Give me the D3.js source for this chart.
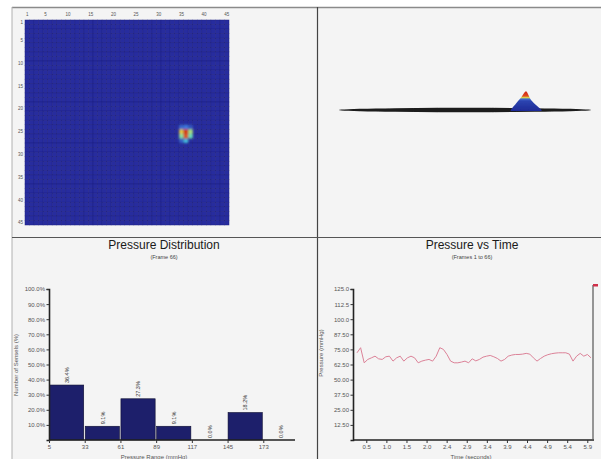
<!DOCTYPE html>
<html><head><meta charset="utf-8">
<script src="https://cdn.jsdelivr.net/npm/d3@7"></script>
<style>
body{margin:0;background:#fff}
svg{display:block}
text{font-family:"Liberation Sans",Arial,sans-serif}
</style>
</head><body>
<svg id="c" width="601" height="459"></svg>
<script>
// ---------- DATA ----------
const gridSize = 45;
const mapTickLabels = [1,5,10,15,20,25,30,35,40,45];
// loaded sensels (column, row, pressure mmHg) in frame 66
const cellCols   = [36, 36, 35, 37, 35, 37, 36, 36, 35, 37, 35];
const cellRows   = [25, 26, 25, 25, 26, 26, 27, 24, 24, 24, 27];
const cellValues = [162,151,105, 82, 75, 68, 48, 28, 22, 15, 18];

const binEdges    = [5, 33, 61, 89, 117, 145, 173];
const binUpper    = 201;
const binPercents = [36.4, 9.1, 27.3, 9.1, 0.0, 18.2, 0.0];
const binLabels   = ["36.4%","9.1%","27.3%","9.1%","0.0%","18.2%","0.0%"];
const pctTicks    = [10,20,30,40,50,60,70,80,90,100];
const pctTickLabels = ["10.0%","20.0%","30.0%","40.0%","50.0%","60.0%","70.0%","80.0%","90.0%","100.0%"];

const frameCount = 66;
const frameInterval = 0.0878; // seconds per frame
const pressureSeries = [
  72.2,76.4,63.9,66.7,68.0,69.4,67.2,66.7,68.9,69.4,
  65.3,68.0,69.4,65.3,68.0,69.4,68.0,63.9,65.3,66.1,
  66.7,65.3,69.4,76.4,75.0,70.8,65.3,63.9,63.9,64.5,
  65.3,63.9,67.2,65.5,66.7,68.6,69.4,70.0,68.9,67.5,
  65.3,66.7,69.4,70.3,70.8,70.8,71.1,71.7,71.1,68.0,
  65.3,67.5,69.4,70.6,71.4,71.9,72.2,72.2,72.2,71.1,
  65.3,69.4,71.7,69.4,70.8,68.0
];
const timeTickValues = [0.49,0.98,1.47,1.96,2.45,2.94,3.43,3.92,4.41,4.90,5.39,5.88];
const timeTickLabels = ["0.5","1.0","1.5","2.0","2.4","2.9","3.4","3.9","4.4","4.9","5.4","5.9"];
const pressureTicks = [12.5,25,37.5,50,62.5,75,87.5,100,112.5,125];
const pressureTickLabels = ["12.50","25.00","37.50","50.00","62.50","75.00","87.50","100.0","112.5","125.0"];

// ---------- DRAW ----------
const svg = d3.select("#c");
const defs = svg.append("defs");
defs.append("filter").attr("id","blur1").attr("x","-50%").attr("y","-50%").attr("width","200%").attr("height","200%")
  .append("feGaussianBlur").attr("stdDeviation",1.1);
defs.append("filter").attr("id","blur05").attr("x","-20%").attr("y","-200%").attr("width","140%").attr("height","500%")
  .append("feGaussianBlur").attr("stdDeviation",0.6);

// panel background and frame
svg.append("rect").attr("x",12).attr("y",7).attr("width",589).attr("height",452).attr("fill","#f4f4f4");
svg.append("line").attr("x1",12).attr("x2",601).attr("y1",7.5).attr("y2",7.5).attr("stroke","#8a8a8a").attr("stroke-width",1.5);
svg.append("line").attr("x1",12).attr("x2",12).attr("y1",7).attr("y2",459).attr("stroke","#b0b0b0").attr("stroke-width",1);
svg.append("line").attr("x1",317.5).attr("x2",317.5).attr("y1",7).attr("y2",459).attr("stroke","#444").attr("stroke-width",1.2);
svg.append("line").attr("x1",12).attr("x2",601).attr("y1",237.5).attr("y2",237.5).attr("stroke","#555").attr("stroke-width",1.2);

// colour map (jet-like)
const jet = d3.scaleLinear()
  .domain([0, 30, 60, 95, 130, 173])
  .range(["#272c9e","#3f7fe0","#45e0d8","#e8e64a","#f08a2a","#d01e12"])
  .clamp(true);

// ---- 2D map ----
const mx = d3.scaleBand().domain(d3.range(1, gridSize+1)).range([25, 229]);
const my = d3.scaleBand().domain(d3.range(1, gridSize+1)).range([20, 225]);
const allCells = [];
for (let r = 1; r <= gridSize; r++) for (let c = 1; c <= gridSize; c++) allCells.push({c, r});
svg.append("g").selectAll("rect").data(allCells).join("rect")
  .attr("x", d => mx(d.c)).attr("y", d => my(d.r))
  .attr("width", mx.bandwidth()).attr("height", my.bandwidth())
  .attr("fill", jet(0)).attr("stroke","#1e2184").attr("stroke-width",0.5);
const loaded = cellValues.map((v,i) => ({c: cellCols[i], r: cellRows[i], v}))
  .sort((a,b) => a.v - b.v);
svg.append("g").attr("filter","url(#blur1)").selectAll("rect").data(loaded).join("rect")
  .attr("x", d => mx(d.c)).attr("y", d => my(d.r))
  .attr("width", mx.bandwidth()).attr("height", my.bandwidth())
  .attr("fill", d => jet(d.v));
svg.append("g").selectAll("text").data(mapTickLabels).join("text")
  .attr("x", d => mx(d) + mx.bandwidth()/2).attr("y", 15.5)
  .attr("text-anchor","middle").attr("font-size",4.5).attr("fill","#555").text(d => d);
svg.append("g").selectAll("text").data(mapTickLabels).join("text")
  .attr("x", 23).attr("y", d => my(d) + my.bandwidth()/2 + 1.6)
  .attr("text-anchor","end").attr("font-size",4.5).attr("fill","#555").text(d => d);

// ---- 3D view ----
const planeY = 110;
svg.append("ellipse").attr("cx",465).attr("cy",planeY).attr("rx",126).attr("ry",2.2)
  .attr("fill","#1a1a1a").attr("filter","url(#blur05)");
const x3 = d3.scaleLinear().domain([1, gridSize]).range([340, 574]);
const h3 = d3.scaleLinear().domain([0, 173]).range([0, 20]);
// column profile = max pressure per column
const colMax = d3.rollups(loaded, v => d3.max(v, d => d.v), d => d.c).sort((a,b) => a[0]-b[0]);
const profile = [[colMax[0][0] - 1.9, 0], ...colMax, [colMax[colMax.length-1][0] + 1.9, 0]];
const grad = defs.append("linearGradient").attr("id","moundGrad").attr("gradientUnits","userSpaceOnUse")
  .attr("x1",0).attr("x2",0).attr("y1",planeY).attr("y2",planeY - h3(173));
[[0,"#1f2c98"],[0.45,"#2c44b0"],[0.55,"#3d6cd0"],[0.62,"#d8d850"],[0.7,"#e04a20"],[1,"#c81810"]]
  .forEach(s => grad.append("stop").attr("offset",s[0]).attr("stop-color",s[1]));
svg.append("path").datum(profile)
  .attr("d", d3.area().x(d => x3(d[0])).y0(planeY + 1).y1(d => planeY - h3(d[1])).curve(d3.curveCardinal.tension(0.3)))
  .attr("fill","url(#moundGrad)").attr("filter","url(#blur05)");

// ---- Histogram ----
const hx = d3.scaleLinear().domain([binEdges[0], binUpper]).range([49, 299]);
const hy = d3.scaleLinear().domain([0, 100]).range([440, 289]);
const bins = binEdges.map((e,i) => ({lo: e, hi: i < binEdges.length-1 ? binEdges[i+1] : binUpper, p: binPercents[i], lab: binLabels[i]}));
svg.append("text").attr("x",164).attr("y",249).attr("text-anchor","middle").attr("font-size",12).attr("fill","#1a1a1a").text("Pressure Distribution");
svg.append("text").attr("x",164).attr("y",259).attr("text-anchor","middle").attr("font-size",5.5).attr("fill","#444").text("(Frame 66)");
svg.append("g").selectAll("rect").data(bins).join("rect")
  .attr("x", d => hx(d.lo) + 0.5).attr("width", d => hx(d.hi) - hx(d.lo) - 1.5)
  .attr("y", d => hy(d.p)).attr("height", d => hy(0) - hy(d.p))
  .attr("fill","#1d1f6b").attr("stroke","#0d0d30").attr("stroke-width",0.6);
svg.append("g").selectAll("text").data(bins).join("text")
  .attr("transform", d => `translate(${(hx(d.lo)+hx(d.hi))/2 + 2},${hy(d.p) - 2}) rotate(-90)`)
  .attr("font-size",5.5).attr("fill","#333").text(d => d.lab);
const hyAxis = svg.append("g").attr("transform","translate(49,0)")
  .call(d3.axisLeft(hy).tickValues(pctTicks).tickFormat((d,i) => pctTickLabels[i]).tickSize(2.5).tickPadding(1.5));
const hxAxis = svg.append("g").attr("transform","translate(0,440)")
  .call(d3.axisBottom(hx).tickValues(binEdges).tickFormat(d => d).tickSize(3).tickPadding(2));
hxAxis.select(".domain").attr("d","M49,0H295");
[hyAxis, hxAxis].forEach(a => {
  a.select(".domain").attr("stroke","#222").attr("stroke-width",1.6);
  a.selectAll(".tick line").attr("stroke","#333");
  a.selectAll("text").attr("font-size",6).attr("fill","#555").attr("font-family","Liberation Sans, Arial, sans-serif");
});
svg.append("text").attr("transform","translate(18,365) rotate(-90)").attr("text-anchor","middle")
  .attr("font-size",6).attr("fill","#555").text("Number of Sensels (%)");
svg.append("text").attr("x",154).attr("y",459).attr("text-anchor","middle")
  .attr("font-size",6).attr("fill","#555").text("Pressure Range (mmHg)");

// ---- Pressure vs Time ----
const frameTimes = d3.range(1, frameCount + 1).map(f => (f + 2) * frameInterval);
const tx = d3.scaleLinear().domain([frameTimes[0], frameTimes[frameCount-1]]).range([357, 591]);
const ty = d3.scaleLinear().domain([0, 125]).range([440, 289]);
svg.append("text").attr("x",472).attr("y",249).attr("text-anchor","middle").attr("font-size",12).attr("fill","#1a1a1a").text("Pressure vs Time");
svg.append("text").attr("x",472).attr("y",259).attr("text-anchor","middle").attr("font-size",5.5).attr("fill","#444").text("(Frames 1 to 66)");
const tyAxis = svg.append("g").attr("transform","translate(353,0)")
  .call(d3.axisLeft(ty).tickValues(pressureTicks).tickFormat((d,i) => pressureTickLabels[i]).tickSize(2.5).tickPadding(1.5));
const txAxis = svg.append("g").attr("transform","translate(0,440)")
  .call(d3.axisBottom(tx).tickValues(timeTickValues).tickFormat((d,i) => timeTickLabels[i]).tickSize(3).tickPadding(2));
txAxis.select(".domain").attr("d","M353,0H594");
[tyAxis, txAxis].forEach(a => {
  a.select(".domain").attr("stroke","#222").attr("stroke-width",1.6);
  a.selectAll(".tick line").attr("stroke","#333");
  a.selectAll("text").attr("font-size",6).attr("fill","#555").attr("font-family","Liberation Sans, Arial, sans-serif");
});
svg.append("path").datum(pressureSeries)
  .attr("d", d3.line().x((d,i) => tx(frameTimes[i])).y(d => ty(d)))
  .attr("fill","none").attr("stroke","#dc8298").attr("stroke-width",1);
// current frame marker
const curX = tx(frameTimes[frameCount-1]) + 2;
svg.append("line").attr("x1",curX).attr("x2",curX).attr("y1",ty(125)-4).attr("y2",440)
  .attr("stroke","#555").attr("stroke-width",1.2);
svg.append("rect").attr("x",curX).attr("y",ty(125)-5).attr("width",5).attr("height",2.5).attr("fill","#d0304a");
svg.append("text").attr("transform","translate(323,353) rotate(-90)").attr("text-anchor","middle")
  .attr("font-size",6).attr("fill","#555").text("Pressure (mmHg)");
svg.append("text").attr("x",471).attr("y",459).attr("text-anchor","middle")
  .attr("font-size",6).attr("fill","#555").text("Time (seconds)");
</script>
</body></html>
